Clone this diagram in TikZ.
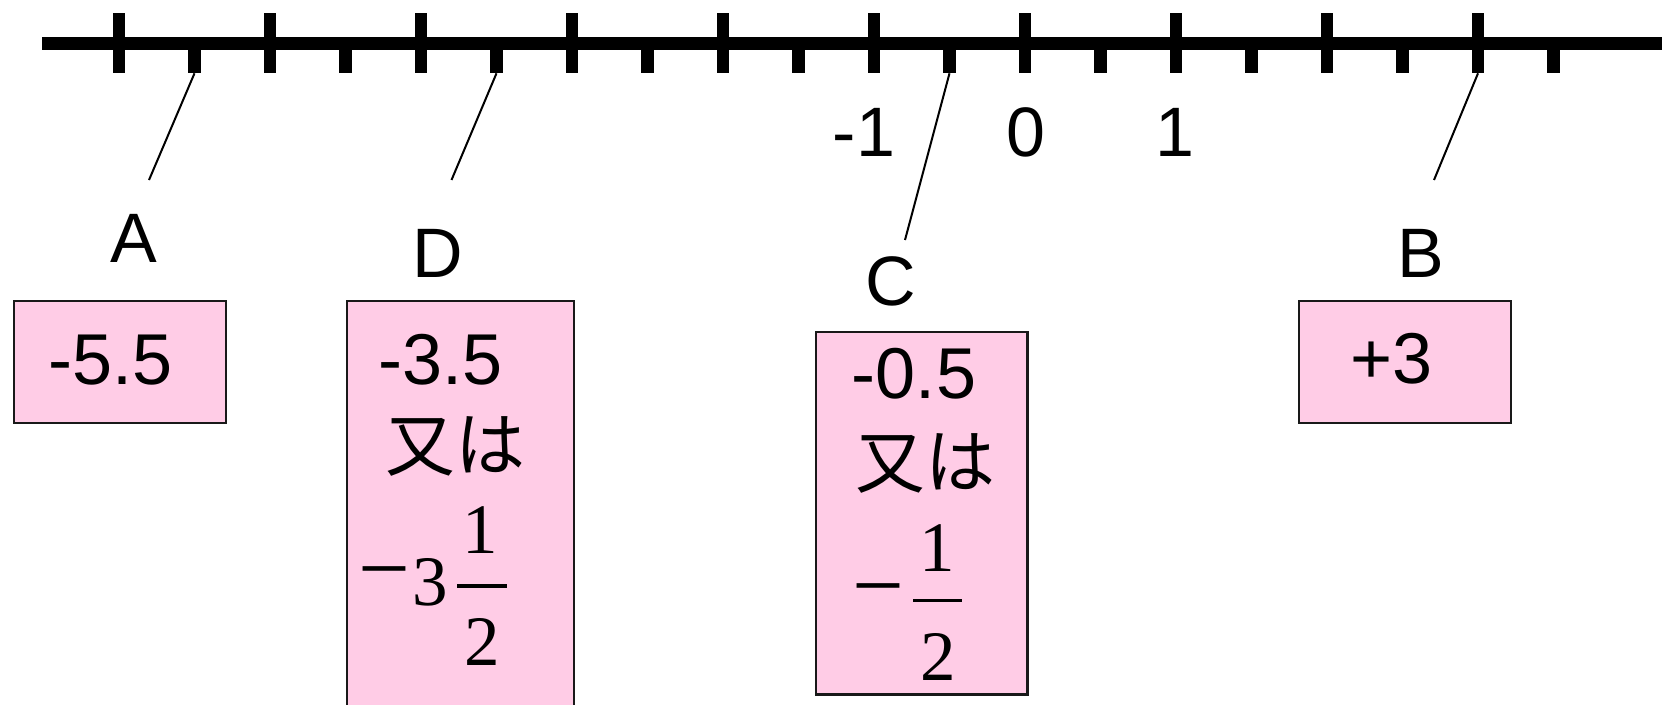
\documentclass[tikz,border=0pt]{standalone}
\usepackage{fontspec}
\setmainfont{Liberation Sans}
\newfontfamily\jpfont{Noto Sans CJK JP}
\newfontfamily\seriffont{Liberation Serif}
\definecolor{boxpink}{RGB}{255,204,230}
\definecolor{boxline}{RGB}{25,25,25}
\begin{document}
\begin{tikzpicture}[x=1pt,y=-1pt,
  lbl/.style={font=\fontsize{70}{80}\selectfont, inner sep=0pt, anchor=base},
  val/.style={font=\fontsize{72}{80}\selectfont, inner sep=0pt, anchor=base},
  jp/.style={font=\jpfont\fontsize{70}{80}\selectfont, inner sep=0pt, anchor=center},
  mth/.style={font=\seriffont\fontsize{71}{80}\selectfont, inner sep=0pt, anchor=base},
  mminus/.style={font=\seriffont\fontsize{92}{100}\selectfont, inner sep=0pt, anchor=center},
  fracbar/.style={line width=3.3pt},
  valbox/.style={draw=boxline, line width=2.2pt, fill=boxpink, inner sep=0pt, anchor=north west},
  leader/.style={line width=2pt},
  axisline/.style={line width=13.3pt}]
\clip (0,0) rectangle (1662,704);
\fill[white] (0,0) rectangle (1662,704);

% axis
\coordinate (axL) at (42,43.3);
\coordinate (axR) at (1662,43.3);
\draw[axisline] (axL) -- (axR);
\foreach \i in {0,...,9} {
  \fill (119+151*\i-6.35,12.7) rectangle ++(12.7,60.6);
  \fill (194.5+151*\i-6.35,43.3) rectangle ++(12.7,30);
}

% tick ends and leader ends
\coordinate (tA) at (194.5,73.3);
\coordinate (tD) at (496.5,73.3);
\coordinate (tC) at (949.5,73.3);
\coordinate (tB) at (1478,73.3);
\coordinate (eA) at (149,180);
\coordinate (eD) at (451.5,180);
\coordinate (eC) at (905,240);
\coordinate (eB) at (1434,180);
\draw[leader] (tA) -- (eA);
\draw[leader] (tD) -- (eD);
\draw[leader] (tC) -- (eC);
\draw[leader] (tB) -- (eB);

% number labels
\node[lbl] (nm1) at (864,156) {-1};
\node[lbl] (n0) at (1026,156) {0};
\node[lbl] (n1) at (1175,156) {1};

% point labels
\node[lbl] (lA) at (134,262.7) {A};
\node[lbl] (lD) at (438,277) {D};
\node[lbl] (lC) at (891,305) {C};
\node[lbl] (lB) at (1421,277) {B};

% boxes
\node[valbox, minimum width=212pt, minimum height=122pt] (boxA) at (12.7,300) {};
\node[valbox, minimum width=227.3pt, minimum height=430pt] (boxD) at (345.6,300) {};
\node[valbox, minimum width=211.4pt, minimum height=362.6pt] (boxC) at (814.9,330.7) {};
\node[valbox, minimum width=212pt, minimum height=122pt] (boxB) at (1298,300) {};

% box A
\node[val] (vA) at (111,384) {-5.5};
% box B
\node[val] (vB) at (1391.5,383) {+3};

% box D
\node[val] (vD) at (441,384) {-3.5};
\node[jp] (jD) at (455,446.7) {又は};
\node[mminus] (mD) at (384,583) {−};
\node[mth] (tD3) at (430,605) {3};
\node[mth] (nD) at (480,553) {1};
\node[mth] (dD) at (482,665.7) {2};
\coordinate (bDl) at (457.3,586);
\coordinate (bDr) at (507,586);
\draw[fracbar] (bDl) -- (bDr);

% box C
\node[val] (vC) at (914,398) {-0.5};
\node[jp] (jC) at (925,463) {又は};
\node[mminus] (mC) at (878.5,600) {−};
\node[mth] (nC) at (937,571) {1};
\node[mth] (dC) at (938,680) {2};
\coordinate (bCl) at (913,600.5);
\coordinate (bCr) at (961.7,600.5);
\draw[fracbar] (bCl) -- (bCr);
\end{tikzpicture}
\end{document}
